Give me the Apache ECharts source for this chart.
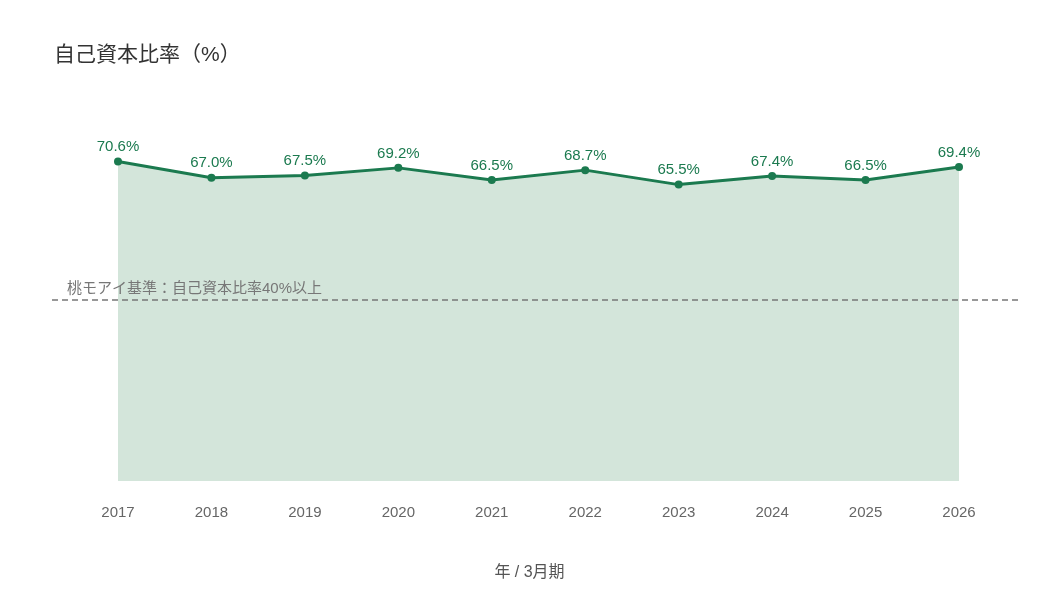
<!DOCTYPE html>
<html>
<head>
<meta charset="utf-8">
<script src="https://cdn.jsdelivr.net/npm/echarts@6/dist/echarts.min.js"></script>
<style>
  html, body { margin: 0; padding: 0; background: #fff; }
  #chart { width: 1056px; height: 594px; }
</style>
</head>
<body>
<div id="chart"></div>
<script>
const years = ['2017', '2018', '2019', '2020', '2021', '2022', '2023', '2024', '2025', '2026']
const equityRatio = [70.6, 67.0, 67.5, 69.2, 66.5, 68.7, 65.5, 67.4, 66.5, 69.4]
const threshold = 40
const thresholdLabel = '桃モアイ基準：自己資本比率40%以上'

const font = "'Liberation Sans', 'Noto Sans CJK JP', sans-serif"
const green = '#1b7a4f'

const myChart = echarts.init(document.getElementById('chart'))
myChart.setOption({
  animation: false,
  textStyle: { fontFamily: font },
  title: {
    text: '自己資本比率（%）',
    left: 49,
    top: 40,
    textStyle: { fontSize: 21, fontWeight: 'normal', color: '#333', fontFamily: font },
  },
  grid: { left: 118, right: 97, top: 119, bottom: 113 },
  xAxis: {
    type: 'category',
    data: years,
    boundaryGap: false,
    axisLine: { show: false },
    axisTick: { show: false },
    axisLabel: { color: '#666', fontSize: 15, margin: 24, fontFamily: font },
    name: '年 / 3月期',
    nameLocation: 'middle',
    nameGap: 84,
    nameTextStyle: { color: '#555', fontSize: 16, fontFamily: font, padding: [0, 18, 0, 0] },
  },
  yAxis: {
    type: 'value',
    min: 0,
    max: 80,
    show: false,
    splitLine: { show: false },
  },
  series: [
    {
      name: '自己資本比率',
      type: 'line',
      data: equityRatio,
      symbol: 'circle',
      symbolSize: 8,
      lineStyle: { color: green, width: 3 },
      itemStyle: { color: green },
      areaStyle: { color: '#d3e5da', opacity: 1, origin: 'start' },
      label: {
        show: true,
        position: 'top',
        distance: 3,
        color: green,
        fontSize: 15,
        fontFamily: font,
        formatter: (p) => p.value.toFixed(1) + '%',
      },
    },
  ],
})

// dashed threshold line spans wider than the plot area
const y40 = myChart.convertToPixel({ yAxisIndex: 0 }, threshold)
myChart.setOption({
  graphic: [
    {
      type: 'line',
      shape: { x1: 52, y1: y40, x2: 1021, y2: y40 },
      style: { stroke: '#777', lineWidth: 1.5, lineDash: [6, 4] },
      z: 10,
    },
    {
      type: 'text',
      x: 67,
      y: y40 - 11,
      style: {
        text: thresholdLabel,
        fill: '#777',
        fontSize: 15,
        fontFamily: font,
        verticalAlign: 'middle',
      },
      z: 10,
    },
  ],
})
</script>
</body>
</html>
